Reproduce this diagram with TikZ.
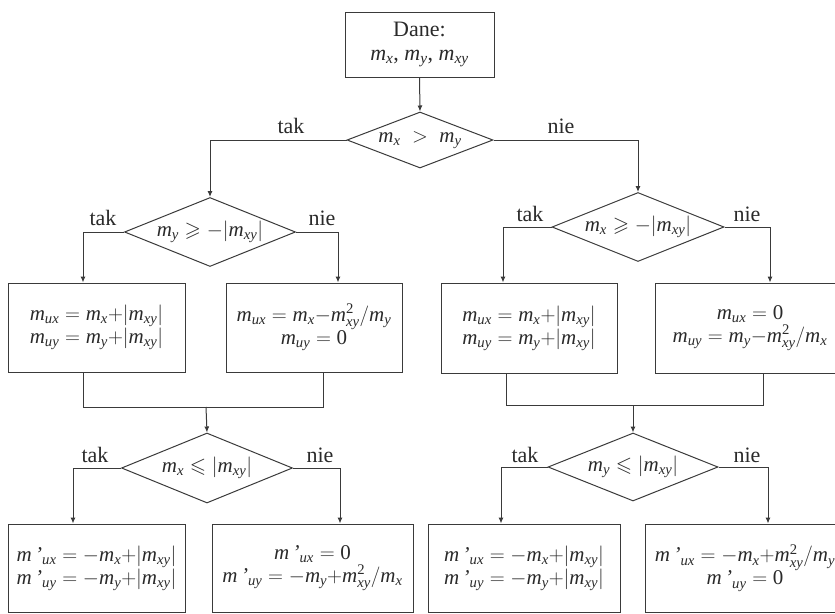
\documentclass[tikz,border=0pt]{standalone}
\usepackage{amsmath,amssymb}
\usepackage{fontspec}
\setmainfont{LiberationSerif}[Extension=.ttf, UprightFont=*-Regular, ItalicFont=*-Italic, BoldFont=*-Bold, BoldItalicFont=*-BoldItalic]
\usetikzlibrary{shapes.geometric,arrows.meta}
\definecolor{lc}{HTML}{3A3A3A}
\definecolor{tc}{HTML}{2A2A2A}
\newcommand\Mv[1]{\textit{m}_{\textit{#1}}}
\newcommand\Mp[1]{\textit{m}\,\textit{'}_{\textit{#1}}}
\newcommand\Msq{\textit{m}^{\text{2}}_{\textit{xy}}}
\tikzset{
  ln/.style={draw=lc, line width=1pt},
  arr/.style={ln, -{Latex[length=6pt,width=5pt]}},
  boxnode/.style={ln, rectangle, inner sep=0pt, align=center, text=tc,
     font=\rmfamily\fontsize{21}{23}\selectfont},
  dia/.style={ln, diamond, inner sep=0pt},
  dtext/.style={text=tc, inner sep=0pt, font=\rmfamily\fontsize{21}{23}\selectfont},
  lab/.style={text=tc, inner sep=0pt, anchor=base, font=\rmfamily\fontsize{22}{24}\selectfont},
}
\begin{document}
\begin{tikzpicture}[x=1pt,y=-1pt]
\useasboundingbox (0,0) rectangle (835,613);
% start
\node[boxnode, minimum width=149pt, minimum height=65pt, font=\rmfamily\fontsize{22}{24}\selectfont] (dane) at (419.5,44.5)
  {Dane:\\ $\Mv{x}$, $\Mv{y}$, $\Mv{xy}$};
% diamonds
\node[dia, minimum width=146pt, minimum height=56pt] (d1) at (420,140) {};
\node[dtext] (t1) at (d1) {$\Mv{x} \mathrel{\;>\;} \Mv{y}$};
\node[dia, minimum width=171pt, minimum height=69pt] (d2) at (210,232) {};
\node[dtext] (t2) at (d2) {$\Mv{y} \geqslant -|\Mv{xy}|$};
\node[dia, minimum width=172pt, minimum height=69pt] (d3) at (638,227) {};
\node[dtext] (t3) at (d3) {$\Mv{x} \geqslant -|\Mv{xy}|$};
\node[dia, minimum width=171pt, minimum height=70pt] (d4) at (207,468) {};
\node[dtext] (t4) at (d4) {$\Mv{x} \leqslant |\Mv{xy}|$};
\node[dia, minimum width=170pt, minimum height=68pt] (d5) at (633,467) {};
\node[dtext] (t5) at (d5) {$\Mv{y} \leqslant |\Mv{xy}|$};
% boxes row 1
\node[boxnode, minimum width=177pt, minimum height=89pt] (b1) at (96.5,327.5)
  {$\Mv{ux} = \Mv{x}{+}|\Mv{xy}|$\\ $\Mv{uy} = \Mv{y}{+}|\Mv{xy}|$};
\node[boxnode, minimum width=176pt, minimum height=89pt] (b2) at (314,327.5)
  {$\Mv{ux} = \Mv{x}{-}\Msq/\Mv{y}$\\ $\Mv{uy} = \text{0}$};
\node[boxnode, minimum width=176pt, minimum height=90pt] (b3) at (529,328)
  {$\Mv{ux} = \Mv{x}{+}|\Mv{xy}|$\\ $\Mv{uy} = \Mv{y}{+}|\Mv{xy}|$};
\node[boxnode, minimum width=190pt, minimum height=90pt] (b4) at (750,328)
  {$\Mv{ux} = \text{0}$\\ $\Mv{uy} = \Mv{y}{-}\Msq/\Mv{x}$};
% boxes row 2
\node[boxnode, minimum width=177pt, minimum height=88pt] (b5) at (96.5,568)
  {$\Mp{ux} = -\Mv{x}{+}|\Mv{xy}|$\\ $\Mp{uy} = -\Mv{y}{+}|\Mv{xy}|$};
\node[boxnode, minimum width=201pt, minimum height=88pt] (b6) at (312.5,568)
  {$\Mp{ux} = \text{0}$\\ $\Mp{uy} = -\Mv{y}{+}\Msq/\Mv{x}$};
\node[boxnode, minimum width=192pt, minimum height=88pt] (b7) at (524,568)
  {$\Mp{ux} = -\Mv{x}{+}|\Mv{xy}|$\\ $\Mp{uy} = -\Mv{y}{+}|\Mv{xy}|$};
\node[boxnode, minimum width=200pt, minimum height=88pt] (b8) at (745,568)
  {$\Mp{ux} = -\Mv{x}{+}\Msq/\Mv{y}$\\ $\Mp{uy} = \text{0}$};
% merge points
\coordinate (m1) at (206,407);
\coordinate (m2) at (633,405);
% connectors
\draw[arr] (dane.south) -- (d1.north);
\draw[arr] (d1.west) -| (d2.north);
\draw[arr] (d1.east) -| (d3.north);
\draw[arr] (d2.west) -| ([xshift=-13.5pt]b1.north);
\draw[arr] (d2.east) -| ([xshift=24pt]b2.north);
\draw[arr] (d3.west) -| ([xshift=-26pt]b3.north);
\draw[arr] (d3.east) -| ([xshift=20pt]b4.north);
\draw[ln] ([xshift=-13.5pt]b1.south) |- (m1);
\draw[ln] ([xshift=9pt]b2.south) |- (m1);
\draw[arr] (m1) -- (d4.north);
\draw[ln] ([xshift=-23pt]b3.south) |- (m2);
\draw[ln] ([xshift=13pt]b4.south) |- (m2);
\draw[arr] (m2) -- (d5.north);
\draw[arr] (d4.west) -| ([xshift=-23.5pt]b5.north);
\draw[arr] (d4.east) -| ([xshift=27.5pt]b6.north);
\draw[arr] (d5.west) -| ([xshift=-23pt]b7.north);
\draw[arr] (d5.east) -| ([xshift=23pt]b8.north);
% labels
\node[lab] (l1t) at (291,133) {tak};
\node[lab] (l1n) at (561,133) {nie};
\node[lab] (l2t) at (103,225) {tak};
\node[lab] (l2n) at (322,225) {nie};
\node[lab] (l3t) at (530,221) {tak};
\node[lab] (l3n) at (747,221) {nie};
\node[lab] (l4t) at (95,462) {tak};
\node[lab] (l4n) at (320,462) {nie};
\node[lab] (l5t) at (525,462) {tak};
\node[lab] (l5n) at (747,462) {nie};
\end{tikzpicture}
\end{document}
